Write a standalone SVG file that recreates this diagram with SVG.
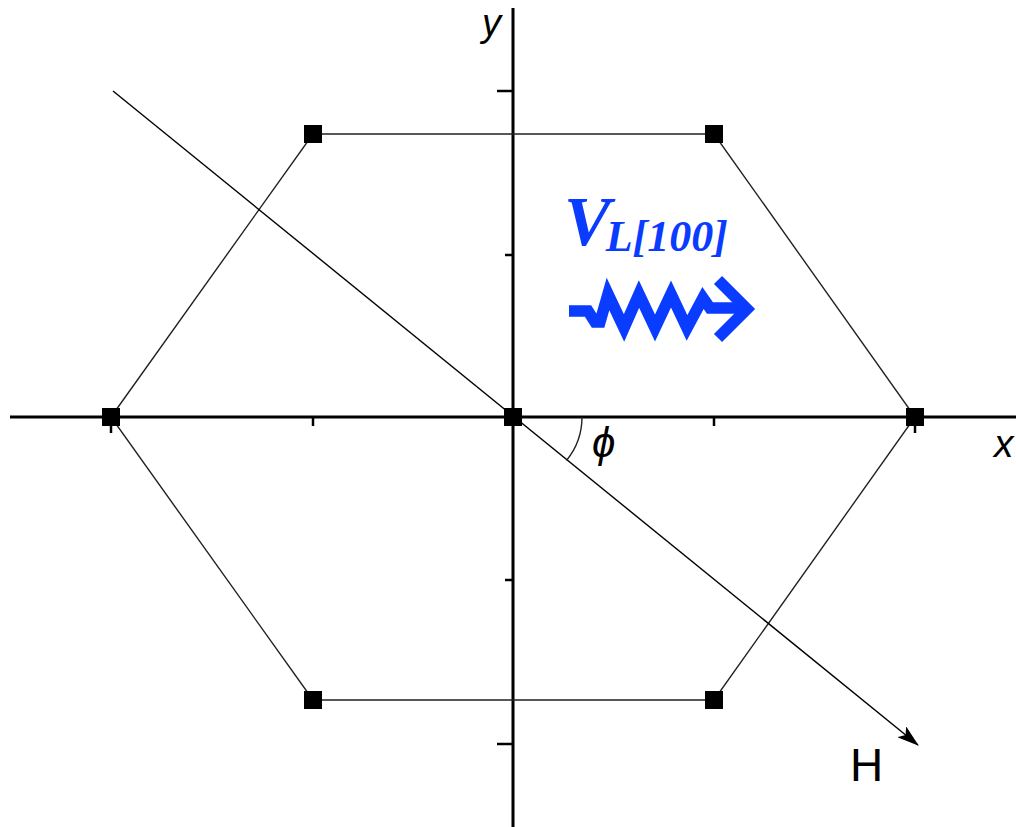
<svg xmlns="http://www.w3.org/2000/svg" width="1016" height="827" viewBox="0 0 1016 827">
<style>
.axis{stroke:#000;stroke-width:3;fill:none}
.tick{stroke:#000;stroke-width:2.5;fill:none}
.edge{stroke:#222;stroke-width:1.4;fill:none}
.pt{fill:#000}
.lbl{font-family:"Liberation Sans","DejaVu Sans",sans-serif;fill:#000}
.blue{fill:#0a3cff}
</style>
<defs>
<marker id="ah" markerWidth="22" markerHeight="14" refX="21" refY="7" orient="auto" markerUnits="userSpaceOnUse">
<path d="M0,0 L22,7 L0,14 L5,7 Z" fill="#000"/>
</marker>
</defs>
<rect width="1016" height="827" fill="#fff"/>
<g id="axes">
<line class="axis" x1="10" y1="417" x2="1016" y2="417"/>
<line class="axis" x1="513" y1="8" x2="513" y2="827"/>
<line class="tick" x1="111" y1="417" x2="111" y2="433"/>
<line class="tick" x1="313" y1="417" x2="313" y2="426"/>
<line class="tick" x1="714" y1="417" x2="714" y2="426"/>
<line class="tick" x1="915" y1="417" x2="915" y2="433"/>
<line class="tick" x1="497" y1="91" x2="513" y2="91"/>
<line class="tick" x1="505" y1="255" x2="513" y2="255"/>
<line class="tick" x1="505" y1="580" x2="513" y2="580"/>
<line class="tick" x1="497" y1="744" x2="513" y2="744"/>
<text class="lbl" x="482" y="36" font-size="38" font-style="italic">y</text>
<text class="lbl" x="994" y="457" font-size="39" font-style="italic">x</text>
</g>
<g id="connectors">
<polygon class="edge" points="111,417 313,134 714,134 915,417 714,700 313,700"/>
<line stroke="#000" stroke-width="1.4" x1="113" y1="91" x2="918" y2="745" marker-end="url(#ah)"/>
<path class="edge" d="M582,417 A69,69 0 0 1 566.5,460.5" stroke="#000" stroke-width="1.6"/>
</g>
<g id="n1"><rect class="pt" x="304" y="125" width="18" height="18"/></g>
<g id="n2"><rect class="pt" x="705" y="125" width="18" height="18"/></g>
<g id="n3"><rect class="pt" x="102" y="408" width="18" height="18"/></g>
<g id="n4"><rect class="pt" x="504" y="408" width="18" height="18"/></g>
<g id="n5"><rect class="pt" x="906" y="408" width="18" height="18"/></g>
<g id="n6"><rect class="pt" x="304" y="691" width="18" height="18"/></g>
<g id="n7"><rect class="pt" x="705" y="691" width="18" height="18"/></g>
<g id="labels">
<text class="lbl" x="592" y="457" font-size="42" font-style="italic">ϕ</text>
<text class="lbl" x="850" y="781" font-size="46">H</text>
</g>
<g id="velocity">
<text class="blue" x="564" y="245" font-family="'Liberation Serif',serif" font-weight="bold" font-style="italic" font-size="70">V<tspan font-size="44" dx="-5" dy="6">L[100]</tspan></text>
<polyline points="569,311 588,311 595,322 600,322 608,294 624,328 639,294 655,328 671,294 687,328 703,298 710,308 748,308" fill="none" stroke="#0a3cff" stroke-width="11.5" stroke-linejoin="miter"/>
<polyline points="718,280 747,309 718,338" fill="none" stroke="#0a3cff" stroke-width="11.5" stroke-linejoin="miter" stroke-miterlimit="4"/>
</g>
</svg>
